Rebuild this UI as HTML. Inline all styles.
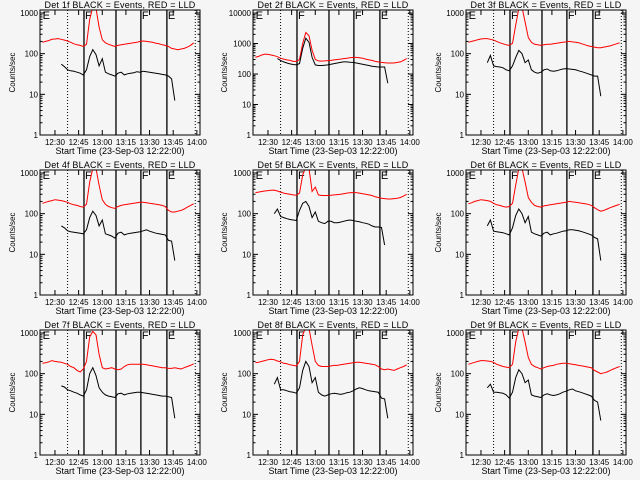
<!DOCTYPE html>
<html><head><meta charset="utf-8">
<style>
body{margin:0;background:#f5f5f5;}
svg{display:block;font-family:"Liberation Sans",sans-serif;}
</style></head>
<body>
<svg id="c" width="640" height="480" viewBox="0 0 640 480" xmlns="http://www.w3.org/2000/svg">
<rect width="640" height="480" fill="#f5f5f5"/>
</svg>
<script>
// time grid: minutes from midnight, 2-minute samples from 12:22
const startMinute = 742;
const stepMinutes = 2;
const xTickLabels = ["12:30","12:45","13:00","13:15","13:30","13:45","14:00"];
const xTickMinutes = [750,765,780,795,810,825,840];
const markerMinutes = [758,768.4,788.7,804.5,821,839];
const markerStyles = ["dot","solid","solid","solid","solid","dot"];
const segLabels = ["E","F","F","E"];
const segLabelMinutes = [741.5,768.4,804.5,821];
const detNames = ["1f","2f","3f","4f","5f","6f","7f","8f","9f"];
const yMaxes = [1185,12600,1185,1185,1185,1185,1185,1185,1185];
const N=null;
const red1=[190,200,210,225,230,235,225,215,205,190,175,165,160,150,170,700,1400,1300,450,220,185,170,160,150,160,165,170,175,180,185,190,200,205,200,195,190,180,175,165,160,150,135,130,125,130,135,145,160,185];
const blk1=[N,N,N,N,N,N,55,48,40,38,37,35,33,30,40,85,125,95,50,75,35,32,30,28,33,35,30,32,33,34,36,35,37,36,35,34,33,32,31,30,28,24,7];
const red2=[350,380,420,450,440,420,400,370,330,310,290,280,260,260,300,1000,2300,1800,600,300,270,265,270,275,280,290,300,310,320,330,340,350,350,340,330,310,290,280,260,250,240,235,230,230,230,240,250,280,320];
const blk2=[N,N,N,N,N,N,N,320,280,250,230,215,205,200,220,700,1500,1100,350,200,190,190,195,200,210,220,230,240,250,250,245,240,230,220,210,200,190,180,175,170,170,170,50];
const red3=[190,200,210,220,230,235,235,225,215,200,185,175,165,160,180,500,1300,1400,600,250,190,170,165,160,165,170,170,175,180,185,190,195,200,195,190,185,175,165,155,150,145,140,140,145,150,155,165,175,185];
const blk3=[N,N,N,N,N,N,60,90,50,48,47,45,40,38,50,80,120,100,60,70,40,35,33,35,40,42,38,37,38,40,42,43,42,41,40,38,36,34,32,30,28,28,9];
const red4=[180,190,200,210,220,215,210,200,190,175,165,160,150,145,170,600,1300,1300,500,220,170,150,140,135,150,160,165,170,175,180,185,190,190,185,180,175,170,165,160,150,120,110,110,115,120,130,145,160,175];
const blk4=[N,N,N,N,N,N,50,45,38,36,35,34,33,32,40,80,115,90,50,70,32,30,28,25,33,35,30,32,33,34,35,36,38,40,37,35,33,32,31,30,22,21,7];
const red5=[330,340,350,360,370,375,380,360,340,320,310,300,290,285,320,900,1400,1300,350,450,290,280,280,280,285,290,295,300,310,320,325,330,330,320,310,300,290,280,260,250,240,235,230,230,235,240,250,270,300];
const blk5=[N,N,N,N,N,N,100,130,85,80,75,72,70,68,120,180,200,150,80,110,65,60,57,65,65,60,60,62,65,68,70,68,65,63,60,58,55,50,47,47,46,17];
const red6=[175,185,200,210,220,215,210,200,180,165,160,150,145,150,180,500,1300,1300,600,250,190,160,150,145,155,160,165,170,175,180,185,190,200,195,190,185,180,175,170,160,140,125,115,120,130,140,150,160,170];
const blk6=[N,N,N,N,N,N,50,70,37,36,35,34,32,30,45,90,130,100,60,85,35,32,30,28,33,35,30,32,33,35,37,38,40,40,39,38,36,34,32,30,26,24,7];
const red7=[180,185,195,210,200,195,190,180,170,150,140,120,110,130,200,800,1100,900,300,140,130,135,140,130,125,130,150,165,170,170,170,170,170,165,160,155,150,145,140,140,135,135,140,135,130,140,150,160,175];
const blk7=[N,N,N,N,N,N,50,47,40,38,35,33,30,28,40,100,140,90,45,35,30,28,27,26,32,33,30,32,33,34,35,35,34,33,32,31,30,29,28,28,27,26,8];
const red8=[185,190,200,210,220,225,220,205,195,180,175,165,160,155,200,900,1400,1300,500,200,160,150,150,150,155,160,160,165,170,175,180,185,190,190,185,180,175,170,165,150,130,125,130,125,120,130,140,150,165];
const blk8=[N,N,N,N,N,N,55,80,40,40,38,36,35,33,45,120,200,150,60,80,35,30,28,30,32,33,32,31,32,34,35,38,42,45,43,40,38,37,36,35,25,24,8];
const red9=[170,180,190,200,210,210,205,200,190,170,160,150,145,140,170,600,1300,1300,600,250,170,150,140,130,140,150,155,160,170,175,180,180,175,170,165,160,155,150,145,140,120,110,100,105,110,120,130,140,150];
const blk9=[N,N,N,N,N,N,45,55,35,35,34,33,30,25,35,80,125,100,60,70,30,28,27,26,30,32,30,29,30,32,35,37,40,42,38,36,34,32,30,28,22,20,7];
const redSeries=[red1,red2,red3,red4,red5,red6,red7,red8,red9];
const blackSeries=[blk1,blk2,blk3,blk4,blk5,blk6,blk7,blk8,blk9];

const NS="http://www.w3.org/2000/svg";
const svg=document.getElementById('c');
const boxLefts=[40,253,466], boxTops=[10,170,330], BW=160, BH=125;
const tMin=740.5, tMax=842;
function mk(tag,attrs,parent){const e=document.createElementNS(NS,tag);for(const k in attrs)e.setAttribute(k,attrs[k]);(parent||svg).appendChild(e);return e;}

for(let p=0;p<9;p++){
  const L=boxLefts[p%3], T=boxTops[Math.floor(p/3)];
  const ymax=yMaxes[p], lmax=Math.log10(ymax);
  const xs=t=>L+(t-tMin)/(tMax-tMin)*BW;
  const ys=v=>T+(lmax-Math.log10(v))/lmax*BH;
  const g=mk('g',{});
  
  
  const clipId='clip'+p;
  const cp=mk('clipPath',{id:clipId},g);
  mk('rect',{x:L,y:T,width:BW,height:BH},cp);
  const tt=mk('text',{x:L+BW/2,y:T-2,'font-size':9,'text-anchor':'middle',fill:'#000','letter-spacing':'0.2'},g);
  tt.textContent='Det '+detNames[p]+' BLACK = Events, RED = LLD';
  
  
  markerMinutes.forEach((m,i)=>{
    const x=xs(m);
    const ln=mk('line',{x1:x,x2:x,y1:T,y2:T+BH,stroke:'#000','stroke-width':markerStyles[i]==='dot'?1:1.3,'stroke-dasharray':markerStyles[i]==='dot'?'1,2':'none'},g);
    
    
  });
  segLabels.forEach((s,i)=>{
    const x=xs(segLabelMinutes[i]);
    const st=mk('text',{x:x+1,y:T+9,'font-size':11,fill:'#000'},g);
    st.textContent=s;
    
    
  });
  [[redSeries[p],'#ff0000','lld-red-series'],[blackSeries[p],'#000','events-black-series']].forEach(([arr,col,nm])=>{
    let d='',pen=false;
    arr.forEach((v,k)=>{
      if(v==null){pen=false;return;}
      const x=xs(startMinute+k*stepMinutes), y=ys(v);
      d+=(pen?'L':'M')+x.toFixed(1)+' '+y.toFixed(1);pen=true;
    });
    const pa=mk('path',{d:d,fill:'none',stroke:col,'stroke-width':1,'clip-path':'url(#'+clipId+')'},g);
    
    
  });
  const bx=mk('rect',{x:L,y:T,width:BW,height:BH,fill:'none',stroke:'#000','stroke-width':1},g);
  
  
  for(let dec=0;Math.pow(10,dec)<=ymax;dec++){
    const y=ys(Math.pow(10,dec));
    mk('line',{x1:L,x2:L+5,y1:y,y2:y,stroke:'#000'},g);
    mk('line',{x1:L+BW,x2:L+BW-5,y1:y,y2:y,stroke:'#000'},g);
    const lab=mk('text',{x:L-2,y:y+3,'font-size':8,'text-anchor':'end',fill:'#000'},g);
    lab.textContent=String(Math.pow(10,dec));
    
    
    for(let m=2;m<10;m++){
      const v=m*Math.pow(10,dec); if(v>ymax)break;
      const yy=ys(v);
      mk('line',{x1:L,x2:L+2.5,y1:yy,y2:yy,stroke:'#000'},g);
      mk('line',{x1:L+BW,x2:L+BW-2.5,y1:yy,y2:yy,stroke:'#000'},g);
    }
  }
  xTickMinutes.forEach((m,i)=>{
    const x=xs(m);
    mk('line',{x1:x,x2:x,y1:T+BH,y2:T+BH-5,stroke:'#000'},g);
    mk('line',{x1:x,x2:x,y1:T,y2:T+5,stroke:'#000'},g);
    const lab=mk('text',{x:x,y:T+BH+10,'font-size':8,'text-anchor':'middle',fill:'#000'},g);
    lab.textContent=xTickLabels[i];
    
    
  });
  const xl=mk('text',{x:L+BW/2,y:T+BH+19,'font-size':9,'text-anchor':'middle',fill:'#000'},g);
  xl.textContent='Start Time (23-Sep-03 12:22:00)';
  
  
  const yx=L-(p%3===1?26:25), yc=T+BH/2;
  const yl=mk('text',{x:yx,y:yc,'font-size':8,'text-anchor':'middle',fill:'#000',transform:'rotate(-90 '+yx+' '+yc+')'},g);
  yl.textContent='Counts/sec';
  
  
}
</script>
</body></html>
